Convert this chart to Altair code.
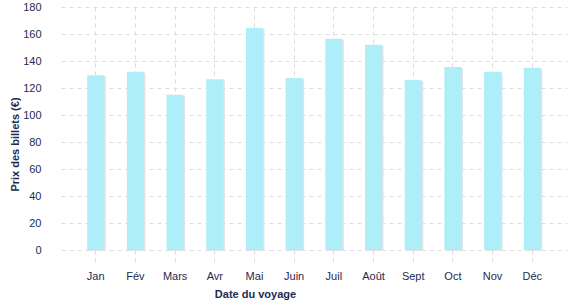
import altair as alt
import pandas as pd

months = ["Jan", "Fév", "Mars", "Avr", "Mai", "Juin", "Juil", "Août", "Sept", "Oct", "Nov", "Déc"]
prices = [129.5, 132, 115, 126.5, 164.5, 127.5, 156.5, 152, 126, 135.5, 132, 135]

df = pd.DataFrame({"mois": months, "prix": prices})

TXT = "#1d2b4f"
FONT = "Liberation Sans"
GRID = "#dcdcdc"

x = alt.X("mois:N", sort=months,
          scale=alt.Scale(paddingInner=0.57, paddingOuter=0.66),
          axis=alt.Axis(title="Date du voyage", labelAngle=0, domain=False,
                        ticks=True, tickSize=13, tickColor=GRID, tickDash=[4, 4],
                        grid=True, gridColor=GRID, gridDash=[4, 4],
                        labelPadding=7, labelFontSize=11, labelColor=TXT, labelFont=FONT,
                        titleFontSize=11, titleFont=FONT, titleColor=TXT, titleFontWeight="bold",
                        titleX=194, titleY=44, titleBaseline="middle"))
y = alt.Y("prix:Q",
          scale=alt.Scale(domain=[0, 180], nice=False),
          axis=alt.Axis(title="Prix des billets (€)", values=list(range(0, 181, 20)),
                        domain=False, ticks=False, labelPadding=20,
                        grid=True, gridColor=GRID, gridDash=[4, 4],
                        labelFontSize=11, labelColor=TXT, labelFont=FONT,
                        titleFontSize=11, titleFont=FONT, titleColor=TXT, titleFontWeight="bold",
                        titleX=-46, titleY=137, titleBaseline="middle"))

shadow = alt.Chart(df).mark_bar(color="#e2e2e8", xOffset=1.5, yOffset=1).encode(x=x, y=y)
bars = alt.Chart(df).mark_bar(color="#aeeef8").encode(x=x, y=y)

chart = (shadow + bars).properties(
    width=506, height=243,
    background="white",
    autosize=alt.AutoSizeParams(type="none"),
    padding={"left": 61, "top": 7, "right": 10, "bottom": 50},
).configure_view(stroke="transparent", strokeWidth=0).configure_axis(domain=False)

chart.save("out.html", embed_options={"renderer": "svg", "actions": False})
